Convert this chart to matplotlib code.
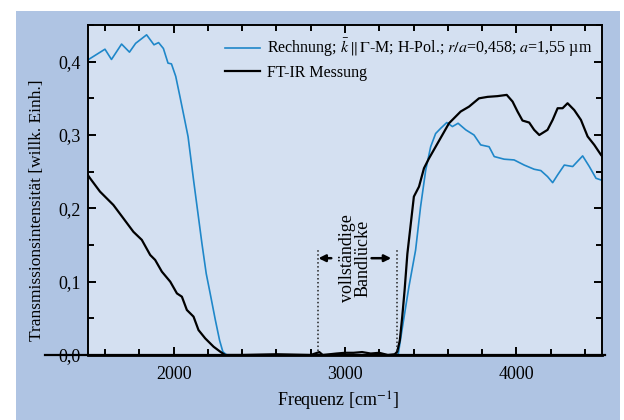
import matplotlib
matplotlib.use('Agg')
import matplotlib.pyplot as plt
from matplotlib.patches import Rectangle
from matplotlib.ticker import MultipleLocator

plt.rcParams['font.family'] = ['Liberation Serif', 'DejaVu Serif']
plt.rcParams['mathtext.fontset'] = 'stix'

# Rechnung (blau)
calc_x = [1500, 1599, 1637, 1696, 1742, 1778, 1842, 1885, 1912, 1940, 1967, 1987, 2012, 2037,
          2064, 2084, 2116, 2139, 2165, 2190, 2213, 2243, 2268, 2287, 2310, 3310, 3334, 3373,
          3412, 3441, 3471, 3500, 3529, 3558, 3594, 3627, 3660, 3705, 3753, 3792, 3841, 3871,
          3929, 3987, 4046, 4104, 4143, 4182, 4212, 4241, 4280, 4329, 4387, 4426, 4465, 4494, 4500]
calc_y = [0.4025, 0.417, 0.403, 0.424, 0.413, 0.425, 0.4366, 0.423, 0.426, 0.418, 0.398, 0.397,
          0.380, 0.352, 0.321, 0.2978, 0.2387, 0.198, 0.152, 0.111, 0.084, 0.048, 0.020, 0.0045,
          0.0, 0.0, 0.036, 0.093, 0.143, 0.202, 0.252, 0.284, 0.302, 0.309, 0.317, 0.3115, 0.316,
          0.307, 0.300, 0.2865, 0.284, 0.2706, 0.267, 0.266, 0.259, 0.2533, 0.2515, 0.2433, 0.235,
          0.2456, 0.259, 0.257, 0.2715, 0.257, 0.241, 0.2387, 0.238]

# FT-IR Messung (schwarz)
meas_x = [1500, 1512, 1570, 1648, 1706, 1765, 1814, 1863, 1892, 1931, 1980, 2019, 2048, 2077,
          2116, 2145, 2184, 2233, 2272, 2300, 2400, 2600, 2800, 2850, 2870, 2950, 3000, 3050,
          3100, 3150, 3200, 3250, 3290, 3305, 3320, 3334, 3348, 3364, 3402, 3432, 3461, 3490,
          3529, 3568, 3607, 3675, 3724, 3782, 3832, 3890, 3944, 3978, 4007, 4036, 4075, 4104,
          4134, 4182, 4212, 4241, 4270, 4299, 4338, 4377, 4416, 4455, 4494, 4505]
meas_y = [0.245, 0.241, 0.2228, 0.2046, 0.1865, 0.168, 0.157, 0.1364, 0.1296, 0.1137, 0.100,
          0.084, 0.0795, 0.0614, 0.0523, 0.034, 0.0227, 0.0113, 0.0045, 0.0, 0.0, 0.001, 0.0,
          0.004, 0.0, 0.002, 0.003, 0.003, 0.004, 0.002, 0.003, 0.0, 0.001, 0.0045, 0.02, 0.052,
          0.0887, 0.138, 0.216, 0.2296, 0.2547, 0.268, 0.284, 0.300, 0.316, 0.332, 0.3387, 0.350,
          0.352, 0.353, 0.3547, 0.3456, 0.332, 0.3197, 0.317, 0.307, 0.300, 0.307, 0.3206, 0.3365,
          0.3365, 0.3433, 0.334, 0.3206, 0.298, 0.2865, 0.2729, 0.27]

ytick_vals = [0.0, 0.1, 0.2, 0.3, 0.4]
ytick_labels = ['0,0', '0,1', '0,2', '0,3', '0,4']
xtick_vals = [2000, 3000, 4000]

gap_left, gap_right = 2840, 3305   # Bandlücke (gepunktete Linien)

fig = plt.figure(figsize=(6.24, 4.2), dpi=100, facecolor='white')
# hellblauer Hintergrund
fig.patches.append(Rectangle((16 / 624, 0), 604 / 624, 409 / 420, transform=fig.transFigure,
                             facecolor='#afc4e3', edgecolor='none', zorder=-5))

ax = fig.add_axes([88 / 624, 65 / 420, 514 / 624, 330 / 420])
ax.set_zorder(2)
ax.set_facecolor('#d4e0f1')

ax.plot(calc_x, calc_y, color='#1f87c9', lw=1.2,
        label=r'Rechnung; $\bar{k}\,\Vert\,\Gamma$-M; H-Pol.; $r/a$=0,458; $a$=1,55 µm')
ax.plot(meas_x, meas_y, color='black', lw=1.6, label='FT-IR Messung')

ax.set_xlim(1500, 4500)
ax.set_ylim(0, 0.45)

ax.set_xticks(xtick_vals)
ax.xaxis.set_minor_locator(MultipleLocator(200))
ax.set_yticks(ytick_vals)
ax.set_yticklabels(ytick_labels)
ax.yaxis.set_minor_locator(MultipleLocator(0.05))
ax.tick_params(which='both', direction='in', top=True, right=True, width=1.4,
               labelsize=13, colors='black')
ax.tick_params(which='major', length=6, pad=5)
ax.tick_params(which='minor', length=4)
ax.tick_params(axis='x', which='major', pad=8)

for s in ax.spines.values():
    s.set_linewidth(1.4)
ax.spines['bottom'].set_linewidth(2.0)
# Nulllinie geht links über die Achse hinaus
ax.axhline(0, xmin=-0.084, xmax=1.006, color='black', lw=1.6, clip_on=False, zorder=5)

# Bandlücke
ax.vlines([gap_left, gap_right], 0, 0.143, colors='#222222', linestyles=(0, (1, 1.6)), lw=1.1)
ax.annotate('', xy=(gap_left + 5, 0.132), xytext=(gap_left + 80, 0.132),
            arrowprops=dict(arrowstyle='-|>', color='black', lw=1.8, mutation_scale=10,
                            shrinkA=0, shrinkB=0))
ax.annotate('', xy=(gap_right - 35, 0.132), xytext=(gap_right - 150, 0.132),
            arrowprops=dict(arrowstyle='-|>', color='black', lw=1.8, mutation_scale=10,
                            shrinkA=0, shrinkB=0))
ax.text(3060, 0.132, 'vollständige\nBandlücke', rotation=90, ha='center', va='center',
        fontsize=13, linespacing=0.95)

leg = ax.legend(loc='upper right', bbox_to_anchor=(0.982, 0.965), frameon=False, fontsize=11.5,
                handlelength=2.2, handletextpad=0.45, labelspacing=0.35, borderpad=0,
                borderaxespad=0)

fig.text(37 / 624, 1 - 210 / 420, 'Transmissionsintensität [willk. Einh.]', rotation=90,
         ha='center', va='center', fontsize=12.5)
fig.text(338 / 624, 1 - 401 / 420, 'Frequenz [cm$^{-1}$]', ha='center', va='center', fontsize=13)

fig.savefig('out.png', dpi=100, facecolor='white')
